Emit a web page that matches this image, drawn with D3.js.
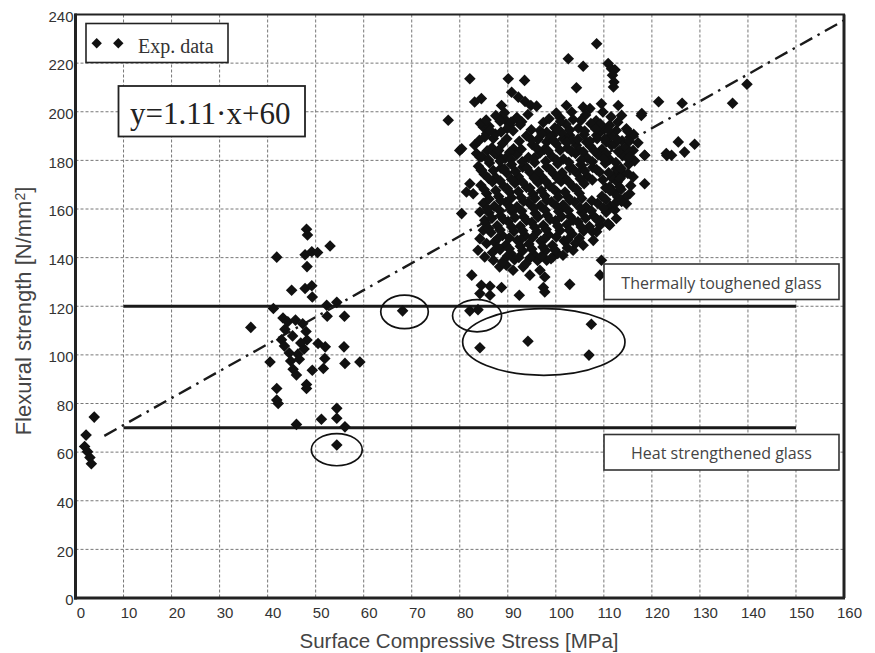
<!DOCTYPE html>
<html><head><meta charset="utf-8">
<script src="https://cdn.jsdelivr.net/npm/d3@7"></script>
<style>body{margin:0;background:#fff}</style>
</head><body><svg id="c" width="875" height="653"></svg>
<script>
// ---------- data ----------
const xTicks = [0,10,20,30,40,50,60,70,80,90,100,110,120,130,140,150,160];
const yTicks = [0,20,40,60,80,100,120,140,160,180,200,220,240];
const xTitle = "Surface Compressive Stress [MPa]";
const yTitleMain = "Flexural strength [N/mm";
const yTitleSup = "2";
const yTitleEnd = "]";
const legendLabel = "Exp. data";
const equationLabel = "y=1.11·x+60";
const thresholdValues = [120, 70];
const thresholdRange = [10, 150];
const thresholdLabels = ["Thermally toughened glass", "Heat strengthened glass"];
const fitX = [6, 160];
const fitY = [66.7, 237.6];
const ellipseCx = [68.5, 83.6, 97.5, 54.4];
const ellipseCy = [117.7, 116.1, 105.3, 61.0];
const ellipseRx = [4.95, 5.1, 16.9, 5.3];
const ellipseRy = [6.9, 6.6, 13.7, 6.6];

const nearZeroPts = [[2.2,67],[3.9,74.4],[1.9,62.3],[2.5,60.2],[3.0,57.8],[3.3,55.2]];
const lowStressPts = [[48.1,151.7],[48.3,149.3],[53.0,144.8],[41.9,140.2],[47.8,141.2],[49.2,142.4],[50.4,142.1],[48.2,136.3],
 [45.0,126.6],[47.8,127.3],[49.2,128.4],[49.3,123.8],[41.2,119.1],[52.3,120.4],[54.4,121.6],[52.4,115.9],[56.0,115.9],[43.2,115.2],[36.5,111.3],
 [42.9,106.2],[43.6,110.5],[44.2,113.6],[45.8,114.3],[47.3,112.8],[48.0,109.6],[48.2,106.1],[47.6,102.4],[46.3,100.3],[44.5,100.8],[43.5,103.6],[45.2,107.8],[46.9,104.9],[44.8,97.5],[46.6,98.2],
 [50.5,104.7],[52.0,103.3],[55.9,103.3],[51.9,98.5],[56.1,96.5],[59.2,97.1],[40.5,97.1],[51.6,94.4],[45.3,94.1],[46.0,91.7],[49.3,93.7],
 [48.1,87.8],[48.1,86.2],[41.9,86.2],[41.9,81.4],[42.2,80.0],[54.4,78.0],[54.4,73.9],[51.2,73.5],[46.0,71.4],[56.1,70.4],[54.4,62.9]];
const circledPts = [[68.1,118.1],[82.1,118.1],[83.8,118.6],[84.2,102.9],[94.2,105.6],[107.4,112.6],[106.9,99.9]];
const clusterLowPts = [[84.5,128.6],[86.3,128.2],[84.2,125.2],[86.3,124.5],[88.7,127.7],[92.4,124.5],[97.4,127.7],[97.7,125.9],[102.9,129.0],
 [82.5,132.8],[97.7,132.0],[109.5,138.9],[109.2,132.8]];
const clusterEdgePts = [[108.5,228],[102.6,221.8],[105.7,218.7],[110.9,219.8],[111.6,217.7],[112.3,217.3],[111.8,215],[112.1,212.2],[112.0,210.2],
 [82.1,213.6],[90.1,213.6],[93.5,212.9],[90.8,208],[92.2,206],[93.6,204.2],[94.8,202.6],[96.0,202.3],[104.3,209.9],[83.1,204],[84.5,205.4],[88.7,202.6],
 [77.6,196.5],[100.1,199.5],[102.2,202.6],[103.3,199.9],[105.7,201.9],[107.1,201.3],[109.5,203.3],[109.8,199.9],[113,202.6],[113.7,198.5],[117.8,198.5],
 [88.7,197.8],[89.7,196.2],[90.4,194.4],[91.9,197.6],[92.9,195.9],[84.9,193.7],[85.6,191],[87,189],[88,182],[84.2,181.4],[80,184.1],[83.5,182.8],
 [96.7,192.3],[98.1,191.6],[99.4,190.3],[101.5,188.9],[102.9,190.3],[98.1,187.6],[104.3,186.2],[106.4,187.6],[108.5,190.3],[109.2,191.6],[109.8,193.7],
 [111.2,194.4],[112.6,192.3],[114.7,193],[115.4,189.5],[116.1,184.1],[113.7,184.1],[111.6,186.2],[110.5,187.6],[118.5,182.1],[80.4,184.8],
 [84.5,175.9],[82.1,170.4],[82.8,166.3],[81.4,167],[80.4,158.1],[84.2,158.8],[85.2,155.4],[84.9,151.3],[84.2,147.8],[85.6,145.8],[83.8,143],[85.2,140.3],
 [87,138.9],[88.3,136.2],[89.7,136.9],[91.1,134.8],[93.2,136.2],[94.6,132.8],[96.7,134.8],[98.1,138.9],[99.4,140.3],[101.5,141],[103.6,143],[105.7,145.1],
 [107.8,147.1],[108.5,150.6],[109.2,153.3],[111.2,153.3],[112.6,156.1],[114.7,162.2],[115.4,166.3],[116.1,173.2],[118.5,170.4],[112.6,174.6],[111.2,169.1]];
const clusterCorePts = [
 [87.5,198.4],[89.3,199.6],[91.8,197.2],[94.2,198.9],[100.9,197.5],[103.6,196.8],[106.2,198.7],[108.4,196.3],[111.5,197.9],
 [84.3,195.2],[86.1,194.0],[89.9,193.1],[92.6,194.7],[97.4,195.6],[99.8,193.4],[102.1,194.9],[104.7,193.2],[107.3,195.1],[110.1,192.8],[112.9,195.7],
 [85.2,189.6],[87.4,190.8],[93.9,190.1],[96.3,188.7],[98.8,189.3],[101.2,191.4],[103.5,188.4],[105.9,190.6],[108.6,188.9],[111.4,190.2],[113.8,188.1],[116.2,190.7],
 [83.1,186.3],[86.7,185.2],[88.9,186.9],[91.2,184.8],[95.1,186.4],[97.6,184.5],[100.1,186.8],[102.4,185.1],[104.8,184.3],[107.2,185.8],[109.6,184.6],[112.3,186.9],[114.6,185.3],[117.1,187.2],
 [84.6,181.5],[87.3,182.7],[89.5,180.9],[91.9,182.4],[94.3,181.2],[96.7,183.1],[99.2,181.7],[101.6,180.6],[104.1,182.8],[106.5,181.1],[108.8,182.3],[111.2,180.4],[113.9,181.9],[116.4,179.8],
 [83.9,177.6],[86.2,178.9],[88.6,176.8],[90.8,178.3],[93.1,177.2],[95.6,179.1],[98.1,177.4],[100.4,178.6],[102.9,176.9],[105.2,178.2],[107.7,177.1],[110.3,178.8],[112.6,176.5],[115.2,178.4],
 [85.1,174.3],[87.5,172.9],[89.8,174.8],[92.2,173.4],[94.6,175.1],[97.1,173.2],[99.5,174.6],[101.9,172.7],[104.3,174.9],[106.6,173.5],[109.1,175.2],[111.7,172.8],[114.1,174.4],
 [84.4,169.8],[86.8,171.2],[89.2,169.3],[91.5,170.6],[93.9,168.9],[96.3,170.9],[98.7,169.5],[101.1,171.3],[103.6,169.1],[105.9,170.4],[110.4,168.7],[112.8,171.1],[115.6,169.6],
 [85.6,166.4],[88.1,165.1],[90.4,166.9],[92.8,164.7],[95.2,166.2],[97.7,165.4],[100.2,167.1],[102.5,164.9],[104.9,166.5],[109.6,165.2],[112.1,166.8],[114.4,164.6],
 [84.9,162.3],[87.2,161.1],[89.6,162.8],[91.9,160.9],[94.4,162.5],[96.8,161.3],[99.1,163.0],[101.5,161.6],[103.9,162.9],[106.3,160.8],[108.7,162.4],[111.3,161.2],[113.7,163.1],
 [86.1,158.5],[88.5,157.2],[90.9,158.9],[93.3,156.8],[95.7,158.3],[98.2,157.4],[100.6,159.0],[103.0,156.9],[105.4,158.6],[107.9,157.1],[110.5,158.7],
 [85.4,154.2],[87.8,153.1],[90.1,154.8],[92.6,152.9],[95.0,154.5],[97.4,153.3],[99.9,155.1],[102.3,153.6],[104.6,154.7],[107.0,152.8],[109.3,155.4],
 [86.5,150.3],[88.9,149.1],[91.3,150.8],[93.7,148.9],[96.1,150.6],[98.5,149.4],[100.9,151.2],[103.4,149.7],[105.8,150.9],
 [87.2,146.4],[89.6,145.2],[92.0,147.1],[94.4,145.6],[96.9,146.8],[99.3,145.1],[101.7,146.9],[104.1,145.8],
 [86.8,142.1],[88.4,143.3],[90.7,141.6],[93.1,142.8],[95.5,141.2],[97.9,142.9],[100.4,141.7],
 [88.9,138.2],[91.4,139.1],[93.8,137.6],[96.2,138.8]];
const clusterFillPts = [
 [85.5,196.6],[88.4,196.1],[90.7,195.8],[98.6,197.1],[101.0,196.0],[105.2,196.4],[109.3,194.9],
 [86.3,192.4],[88.6,191.7],[91.1,192.2],[94.9,192.6],[97.1,190.8],[100.3,192.9],[102.9,192.5],[106.0,192.1],[108.3,192.9],[111.0,192.4],
 [84.1,188.3],[89.8,188.9],[92.4,187.9],[94.9,188.6],[99.6,188.1],[102.3,187.3],[104.6,188.7],[107.1,187.9],[110.2,188.8],[112.8,188.6],[115.3,187.9],
 [85.7,183.9],[88.1,184.1],[90.4,183.3],[92.8,184.6],[96.0,185.0],[98.4,183.9],[100.9,184.2],[103.3,183.6],[105.7,183.5],[108.0,184.0],[110.5,182.8],[113.0,183.6],[115.3,183.2],
 [86.0,180.2],[88.4,179.7],[90.7,180.4],[93.0,179.4],[95.5,181.0],[97.9,179.6],[100.2,180.0],[102.7,179.2],[105.3,180.1],[107.6,179.4],[110.0,180.6],[112.5,179.1],[115.0,180.8],
 [84.5,176.0],[87.0,175.8],[89.3,176.5],[91.6,175.4],[94.0,176.9],[96.4,175.3],[98.9,176.1],[101.3,174.9],[103.6,176.4],[106.0,175.7],[108.5,176.2],[111.0,174.9],[113.6,176.7],
 [86.0,172.6],[88.4,171.6],[90.8,172.2],[93.1,171.0],[95.5,172.7],[97.9,171.4],[100.3,172.8],[102.7,171.1],[105.1,172.4],[107.6,171.9],[109.8,172.0],[113.4,172.5],
 [85.1,168.0],[87.5,167.6],[89.9,168.4],[92.2,167.2],[94.6,168.6],[97.0,167.5],[99.5,168.2],[101.9,167.0],[104.3,168.3],[111.3,167.5],[113.6,168.0],
 [86.1,164.1],[88.5,163.4],[90.8,164.6],[93.3,163.2],[95.7,164.4],[98.1,163.5],[100.5,164.9],[102.9,163.6],[105.4,164.3],[107.5,163.4],[110.4,163.9],[112.9,164.9],
 [85.8,160.1],[88.2,159.6],[90.6,160.5],[92.9,159.2],[95.4,160.4],[97.8,159.5],[100.2,161.0],[102.6,159.4],[105.0,160.6],[107.4,159.3],[109.9,160.4],[112.3,159.6],
 [86.7,156.2],[89.1,155.7],[91.5,156.5],[93.9,155.3],[96.3,156.7],[98.8,155.7],[101.2,156.9],[103.6,155.4],[106.2,156.2],[108.6,155.6],
 [86.0,152.1],[88.4,151.4],[90.8,152.6],[93.1,151.1],[95.6,152.5],[98.0,151.6],[100.4,153.0],[102.8,151.3],[105.3,152.6],[107.5,150.9],
 [87.9,147.8],[90.3,148.1],[92.7,147.4],[95.2,148.4],[97.6,147.6],[100.1,148.5],[102.5,147.4],[104.9,148.0],
 [87.9,144.3],[90.3,143.6],[92.6,144.7],[95.0,143.5],[97.3,144.4],[99.8,143.2],[102.4,144.0],
 [89.9,140.6],[92.3,140.1],[94.6,139.8],[97.0,140.5],[99.0,139.6]];
const rightPts = [[115,192],[125.5,187.6],[128.9,186.6],[126.8,183.4],[123,182.8],[124.1,182.1],[118.5,182.1],[115.4,181.4],[115,174.6],
 [113.3,169],[112.3,162.2],[110.9,154],[121.4,204.1],[117.9,199.3],[123.1,182],[126.3,203.5],[136.8,203.5],[139.8,211.3]];

// ---------- chart ----------
const svg = d3.select("#c");
const L = 75.5, R = 844, T = 14.5, B = 598;
const x = d3.scaleLinear().domain([0,160]).range([L,R]);
const y = d3.scaleLinear().domain([0,240]).range([B,T]);

svg.append("rect").attr("width",875).attr("height",653).attr("fill","#fff");

// grid
const grid = svg.append("g").attr("stroke","#777").attr("stroke-width",1).attr("stroke-dasharray","3,2");
grid.selectAll(".gx").data(xTicks.slice(1,-1)).join("line")
  .attr("x1",d=>x(d)).attr("x2",d=>x(d)).attr("y1",T).attr("y2",B);
grid.selectAll(".gy").data(yTicks.slice(1,-1)).join("line")
  .attr("y1",d=>y(d)).attr("y2",d=>y(d)).attr("x1",L).attr("x2",R);

// axes
const xAxis = svg.append("g").attr("transform",`translate(0,${B})`)
  .call(d3.axisBottom(x).tickValues(xTicks).tickSize(0).tickPadding(9));
xAxis.select(".domain").remove();
xAxis.selectAll("text").attr("dx",5).style("font-family","'Liberation Sans',Arial,sans-serif").style("font-size","15px").attr("fill","#333");
const yAxis = svg.append("g").attr("transform",`translate(${L},0)`)
  .call(d3.axisLeft(y).tickValues(yTicks).tickSize(0).tickPadding(2));
yAxis.select(".domain").remove();
yAxis.selectAll("text").attr("dy","0.45em").style("font-family","'Liberation Sans',Arial,sans-serif").style("font-size","15px").attr("fill","#333");

// threshold lines
svg.selectAll(".thr").data(thresholdValues).join("line")
  .attr("x1",x(thresholdRange[0])).attr("x2",x(thresholdRange[1]))
  .attr("y1",d=>y(d)).attr("y2",d=>y(d))
  .attr("stroke","#1a1a1a").attr("stroke-width",3);

// fit line
svg.append("line").attr("x1",x(fitX[0])).attr("y1",y(fitY[0])).attr("x2",x(fitX[1])).attr("y2",y(fitY[1]))
  .attr("stroke","#1a1a1a").attr("stroke-width",2.4).attr("stroke-dasharray","14,6,2.5,6");

// points
const allPts = [].concat(nearZeroPts, lowStressPts, circledPts, clusterLowPts, clusterEdgePts, clusterCorePts, clusterFillPts, rightPts);
const sym = d3.symbol().type(d3.symbolSquare).size(67);
svg.append("g").selectAll("path").data(allPts).join("path")
  .attr("d",sym).attr("fill","#111")
  .attr("transform",d=>`translate(${x(d[0])},${y(d[1])}) rotate(45)`);

// ellipses
svg.append("g").selectAll("ellipse").data(ellipseCx).join("ellipse")
  .attr("cx",(d)=>x(d)).attr("cy",(d,i)=>y(ellipseCy[i]))
  .attr("rx",(d,i)=>x(ellipseRx[i])-x(0)).attr("ry",(d,i)=>y(0)-y(ellipseRy[i]))
  .attr("fill","none").attr("stroke","#111").attr("stroke-width",1.7);

// frame
svg.append("rect").attr("x",L).attr("y",T).attr("width",R-L).attr("height",B-T)
  .attr("fill","none").attr("stroke","#222").attr("stroke-width",2);
svg.append("line").attr("x1",L).attr("x2",L).attr("y1",T-1).attr("y2",B+1.5).attr("stroke","#222").attr("stroke-width",3);
svg.append("line").attr("x1",L-1.5).attr("x2",R+1).attr("y1",B).attr("y2",B).attr("stroke","#222").attr("stroke-width",3);
svg.append("line").attr("x1",R).attr("x2",R).attr("y1",T).attr("y2",B).attr("stroke","#222").attr("stroke-width",3);

// legend box
const symL = d3.symbol().type(d3.symbolSquare).size(54);
svg.append("rect").attr("x",86).attr("y",23.5).attr("width",142).attr("height",39)
  .attr("fill","#fff").attr("stroke","#222").attr("stroke-width",1.6);
svg.selectAll(".lg").data([96.7,118.3]).join("path").attr("d",symL).attr("fill","#111")
  .attr("transform",d=>`translate(${d},43.3) rotate(45)`);
svg.append("text").attr("x",138).attr("y",52.5).text(legendLabel)
  .style("font-family","'Liberation Serif','Times New Roman',serif").style("font-size","20px").attr("fill","#333");

// equation box
svg.append("rect").attr("x",118.5).attr("y",86).attr("width",186.5).attr("height",50.5)
  .attr("fill","#fff").attr("stroke","#222").attr("stroke-width",1.8);
svg.append("text").attr("x",130).attr("y",123.5).text(equationLabel)
  .style("font-family","'Liberation Serif','Times New Roman',serif").style("font-size","31px").attr("fill","#222");

// threshold label boxes
const boxY = [264, 434.5];
thresholdLabels.forEach((t,i)=>{
  svg.append("rect").attr("x",604).attr("y",boxY[i]).attr("width",235).attr("height",35.5)
    .attr("fill","#fff").attr("stroke","#333").attr("stroke-width",1.6);
  svg.append("text").attr("x",721.5).attr("y",boxY[i]+24.5).attr("text-anchor","middle").text(t)
    .style("font-family","'Open Sans',sans-serif").style("font-size","16px").attr("fill","#444");
});

// axis titles
svg.append("text").attr("x",459).attr("y",648).attr("text-anchor","middle").text(xTitle)
  .style("font-family","'Liberation Sans',Arial,sans-serif").style("font-size","20.5px").attr("fill","#444");
const yt = svg.append("text").attr("transform","translate(31,311) rotate(-90)").attr("text-anchor","middle")
  .style("font-family","'Liberation Sans',Arial,sans-serif").style("font-size","22px").attr("fill","#444");
yt.append("tspan").text(yTitleMain);
yt.append("tspan").text(yTitleSup).attr("dy","-0.45em").style("font-size","14px");
yt.append("tspan").text(yTitleEnd).attr("dy","0.3em");
</script></body></html>
